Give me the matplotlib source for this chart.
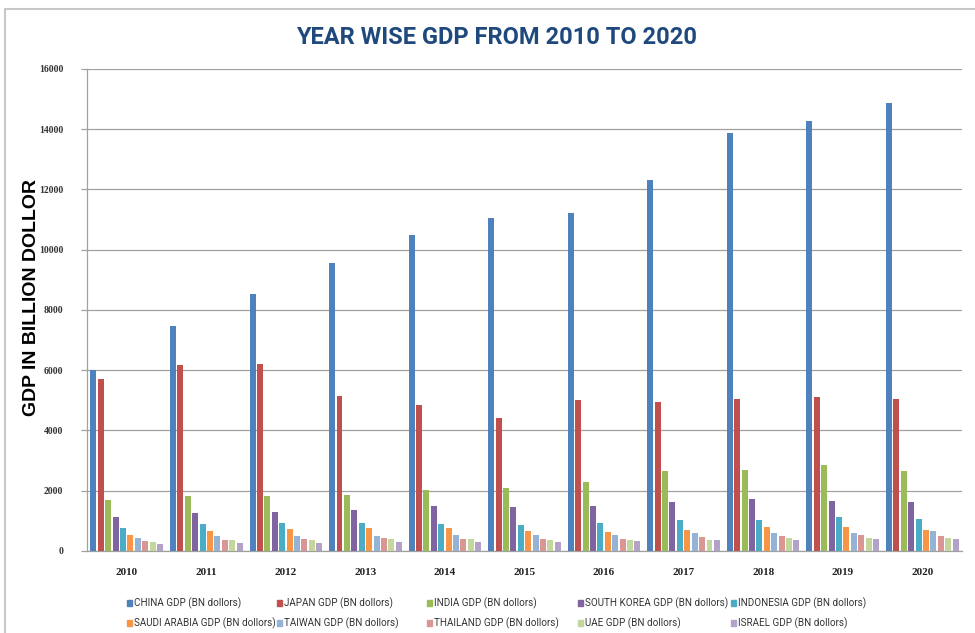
import numpy as np
import matplotlib
matplotlib.use('Agg')
import matplotlib.pyplot as plt
from matplotlib.patches import Rectangle

# GDP in billion dollars, one list per country
years = ['2010', '2011', '2012', '2013', '2014', '2015', '2016', '2017', '2018', '2019', '2020']
china = [6000, 7480, 8530, 9570, 10480, 11060, 11230, 12310, 13890, 14280, 14860]
japan = [5700, 6160, 6200, 5160, 4850, 4400, 5000, 4930, 5040, 5120, 5040]
india = [1690, 1820, 1830, 1860, 2040, 2100, 2290, 2650, 2700, 2870, 2660]
south_korea = [1120, 1250, 1280, 1370, 1480, 1465, 1500, 1620, 1720, 1650, 1630]
indonesia = [750, 890, 918, 913, 890, 860, 930, 1015, 1040, 1120, 1060]
saudi_arabia = [520, 670, 735, 747, 755, 654, 645, 688, 786, 792, 700]
taiwan = [440, 485, 495, 512, 535, 535, 545, 590, 610, 612, 670]
thailand = [340, 370, 400, 420, 407, 400, 410, 456, 505, 544, 500]
uae = [290, 350, 375, 390, 400, 358, 360, 380, 420, 420, 420]
israel = [230, 260, 260, 290, 308, 300, 320, 350, 370, 395, 400]

series = [china, japan, india, south_korea, indonesia,
          saudi_arabia, taiwan, thailand, uae, israel]
names = ['CHINA GDP (BN dollors)', 'JAPAN GDP (BN dollors)', 'INDIA GDP (BN dollors)',
         'SOUTH KOREA GDP (BN dollors)', 'INDONESIA GDP (BN dollors)',
         'SAUDI ARABIA GDP (BN dollors)', 'TAIWAN GDP (BN dollors)',
         'THAILAND GDP (BN dollors)', 'UAE GDP (BN dollors)', 'ISRAEL GDP (BN dollors)']
colors = ['#4F81BD', '#C0504D', '#9BBB59', '#8064A2', '#4BACC6',
          '#F79646', '#95B3D7', '#D99694', '#C3D69B', '#B3A2C7']

W, H = 975, 633
fig = plt.figure(figsize=(W / 100, H / 100), dpi=100)

# light frame round the whole chart
fig.add_artist(Rectangle((5 / W, -0.1), 1.2, 1 - 9 / H + 0.1, transform=fig.transFigure,
                         fill=False, edgecolor='#C8C8C8', linewidth=1.5))

ax = fig.add_axes([87 / W, 1 - 551 / H, (962 - 87) / W, (551 - 69) / H])

pos = np.arange(len(years))
slot = 0.0931
for j, vals in enumerate(series):
    ax.bar(pos + (j - 4.5) * slot, vals, width=0.075, color=colors[j], zorder=3)

ax.set_xlim(-0.5, len(years) - 0.5)
ax.set_ylim(0, 16000)
ax.set_yticks(np.arange(0, 16001, 2000))
ax.yaxis.grid(True, color='#A0A0A0', linewidth=0.9, zorder=0)
ax.set_xticks(pos)
ax.set_xticklabels(years)
ax.tick_params(axis='x', length=0, pad=12)
ax.tick_params(axis='y', length=4, color='#A0A0A0', width=0.9, pad=13)
for lab in ax.get_xticklabels():
    lab.set_fontfamily('Liberation Serif')
    lab.set_fontweight('bold')
    lab.set_fontsize(8)
    lab.set_color('#222222')
for lab in ax.get_yticklabels():
    lab.set_fontfamily('Liberation Serif')
    lab.set_fontweight('bold')
    lab.set_fontsize(7)
    lab.set_color('#333333')

for side in ['top', 'right']:
    ax.spines[side].set_visible(False)
for side in ['left', 'bottom']:
    ax.spines[side].set_color('#A0A0A0')
    ax.spines[side].set_linewidth(0.9)

fig.text(497 / W, 1 - 38 / H, 'YEAR WISE GDP FROM 2010 TO 2020', ha='center', va='center',
         fontsize=17, fontweight='bold', color='#1F497D', family='Roboto')
fig.text(32 / W, 1 - 298 / H, 'GDP IN BILLION DOLLOR', ha='center', va='center', rotation=90,
         fontsize=14, fontweight='bold', color='black', family='Liberation Sans')

# legend: two rows of five entries
col_x = [127, 277, 427, 578, 731]
row_y = [603, 623]
for i, name in enumerate(names):
    x = col_x[i % 5]
    y = row_y[i // 5]
    fig.add_artist(Rectangle((x / W, 1 - (y + 3) / H), 5 / W, 6 / H,
                             transform=fig.transFigure, color=colors[i]))
    fig.text((x + 7) / W, 1 - y / H, name, ha='left', va='center',
             fontsize=7.1, color='#333333', family='Roboto')

fig.savefig('out.png', dpi=100)
